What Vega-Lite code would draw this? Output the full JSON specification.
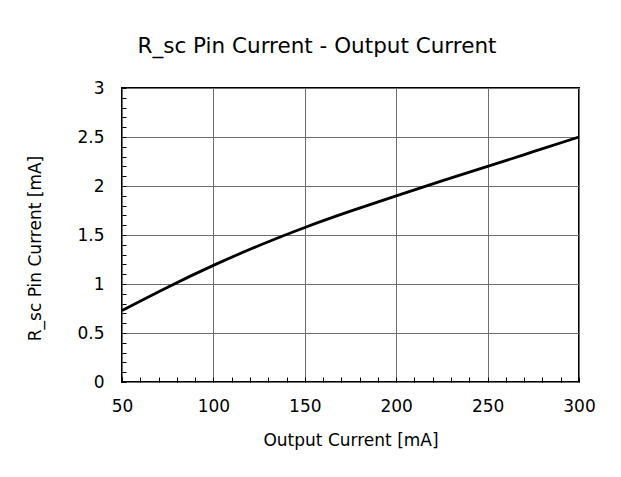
{
  "$schema": "https://vega.github.io/schema/vega-lite/v6.json",
  "autosize": "none",
  "width": 457,
  "height": 294,
  "padding": {"left": 122, "top": 88, "right": 42, "bottom": 95},
  "background": "white",
  "title": {
    "text": "R_sc Pin Current - Output Current",
    "font": "DejaVu Sans",
    "fontSize": 21.5,
    "fontWeight": "normal",
    "color": "#000000",
    "anchor": "middle",
    "baseline": "bottom",
    "dx": -33.5,
    "offset": 0
  },
  "config": {
    "view": {"stroke": "#000000", "strokeWidth": 2},
    "axis": {
      "labelFont": "DejaVu Sans",
      "labelFontSize": 17,
      "labelColor": "#000000",
      "titleFont": "DejaVu Sans",
      "titleFontSize": 17,
      "titleFontWeight": "normal",
      "titleColor": "#000000",
      "domain": false,
      "labelFlush": false
    }
  },
  "data": {
    "values": [
      {"iout": 50, "irsc": 0.73},
      {"iout": 75, "irsc": 0.968},
      {"iout": 100, "irsc": 1.19},
      {"iout": 125, "irsc": 1.393},
      {"iout": 150, "irsc": 1.577},
      {"iout": 175, "irsc": 1.743},
      {"iout": 200, "irsc": 1.9},
      {"iout": 225, "irsc": 2.053},
      {"iout": 250, "irsc": 2.2},
      {"iout": 275, "irsc": 2.35},
      {"iout": 300, "irsc": 2.5}
    ]
  },
  "mark": {"type": "line", "color": "#000000", "strokeWidth": 2.8, "interpolate": "natural"},
  "encoding": {
    "x": {
      "field": "iout",
      "type": "quantitative",
      "scale": {"domain": [50, 300], "nice": false, "zero": false},
      "axis": {
        "values": [50, 60, 70, 80, 90, 100, 110, 120, 130, 140, 150, 160, 170, 180, 190, 200, 210, 220, 230, 240, 250, 260, 270, 280, 290, 300],
        "orient": "bottom",
        "labelExpr": "datum.value % 50 == 0 ? datum.value + '' : ''",
        "ticks": true,
        "tickSize": -5,
        "tickColor": "#000000",
        "tickWidth": 1,
        "labelPadding": 21,
        "grid": true,
        "gridColor": "#6e6e6e",
        "gridWidth": 1,
        "gridOpacity": {"condition": {"test": "datum.value % 50 == 0", "value": 1}, "value": 0},
        "title": "Output Current [mA]",
        "titleX": 228.5,
        "titleY": 58,
        "titleBaseline": "middle",
        "titleAlign": "center"
      }
    },
    "y": {
      "field": "irsc",
      "type": "quantitative",
      "scale": {"domain": [0, 3], "nice": false, "zero": true},
      "axis": {
        "values": [0, 0.1, 0.2, 0.3, 0.4, 0.5, 0.6, 0.7, 0.8, 0.9, 1, 1.1, 1.2, 1.3, 1.4, 1.5, 1.6, 1.7, 1.8, 1.9, 2, 2.1, 2.2, 2.3, 2.4, 2.5, 2.6, 2.7, 2.8, 2.9, 3],
        "orient": "left",
        "labelExpr": "round(datum.value * 10) % 5 == 0 ? datum.value + '' : ''",
        "ticks": true,
        "tickSize": -4,
        "tickColor": "#000000",
        "tickWidth": 1,
        "labelPadding": 22,
        "grid": true,
        "gridColor": "#6e6e6e",
        "gridWidth": 1,
        "gridOpacity": {"condition": {"test": "round(datum.value * 10) % 5 == 0", "value": 1}, "value": 0},
        "title": "R_sc Pin Current [mA]",
        "titleX": -87,
        "titleY": 160,
        "titleAngle": -90,
        "titleBaseline": "middle",
        "titleAlign": "center"
      }
    }
  }
}
